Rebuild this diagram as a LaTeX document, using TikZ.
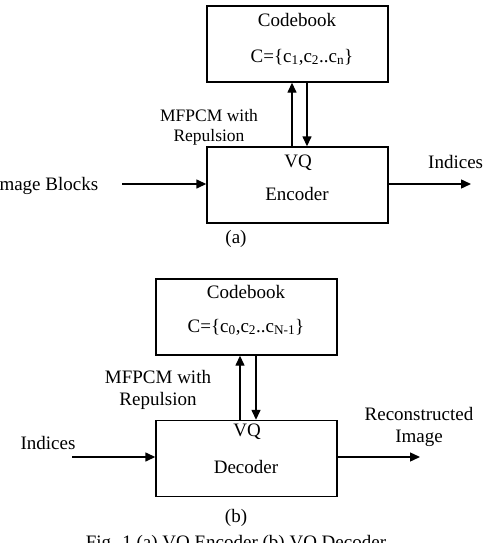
\documentclass[tikz,border=0pt]{standalone}
\usepackage{fontspec}
\setmainfont{Liberation Serif}
\usetikzlibrary{arrows.meta}
\begin{document}
\begin{tikzpicture}[x=1pt,y=-1pt,
  blk/.style={draw,line width=1.4pt,minimum width=181pt,minimum height=76pt,inner sep=0pt},
  lbl/.style={inner sep=0pt,font=\fontsize{19}{22}\selectfont},
  lbls/.style={inner sep=0pt,font=\fontsize{17.5}{20}\selectfont,align=center},
  arr/.style={line width=1.4pt,-{Triangle[length=10pt,width=9pt]}}]
\useasboundingbox (0,0) rectangle (485,543);
% ---- (a) encoder ----
\node[blk] (cbA) at (297.5,44) {};
\node[blk] (enc) at (297.5,185) {};
\node[lbl] (cbAt) at (297,20) {Codebook};
\node[lbl] (cbAs) at (302,57) {C=\{c\textsubscript{1},c\textsubscript{2}..c\textsubscript{n}\}};
\node[lbl] (vqA) at (298,163) {VQ};
\node[lbl] (encT) at (297,194) {Encoder};
\node[lbls] (mfA) at (209,127) {MFPCM with\\Repulsion};
\coordinate (uA) at (292,0);
\coordinate (dA) at (307,0);
\draw[arr] (uA |- enc.north) -- (uA |- cbA.south);
\draw[arr] (dA |- cbA.south) -- (dA |- enc.north);
\coordinate (inA) at (122,184);
\coordinate (outA) at (471,184);
\draw[arr] (inA) -- (inA -| enc.west);
\draw[arr] (outA -| enc.east) -- (outA);
\node[lbl,anchor=west] (ib) at (-7,186) {Image Blocks};
\node[lbl,anchor=west] (indA) at (428,162) {Indices};
\node[lbl] (capa) at (236,239) {(a)};
% ---- (b) decoder ----
\node[blk] (cbB) at (246.5,317) {};
\node[blk] (dec) at (246.5,458.5) {};
\node[lbl] (cbBt) at (246,292) {Codebook};
\node[lbl] (cbBs) at (246,327) {C=\{c\textsubscript{0},c\textsubscript{2}..c\textsubscript{N-1}\}};
\node[lbl] (vqB) at (247,432) {VQ};
\node[lbl] (decT) at (246,467) {Decoder};
\node[lbl,align=center] (mfB) at (158,390) {MFPCM with\\Repulsion};
\coordinate (uB) at (240,0);
\coordinate (dB) at (256,0);
\draw[arr] (uB |- dec.north) -- (uB |- cbB.south);
\draw[arr] (dB |- cbB.south) -- (dB |- dec.north);
\coordinate (inB) at (72,457);
\coordinate (outB) at (420,457);
\draw[arr] (inB) -- (inB -| dec.west);
\draw[arr] (outB -| dec.east) -- (outB);
\node[lbl] (indB) at (48,443) {Indices};
\node[lbl,align=center] (rec) at (419,427) {Reconstructed\\Image};
\node[lbl] (capb) at (236,518) {(b)};
\node[lbl,anchor=base] (fig) at (236,548) {Fig. 1 (a) VQ Encoder (b) VQ Decoder};
\end{tikzpicture}
\end{document}
